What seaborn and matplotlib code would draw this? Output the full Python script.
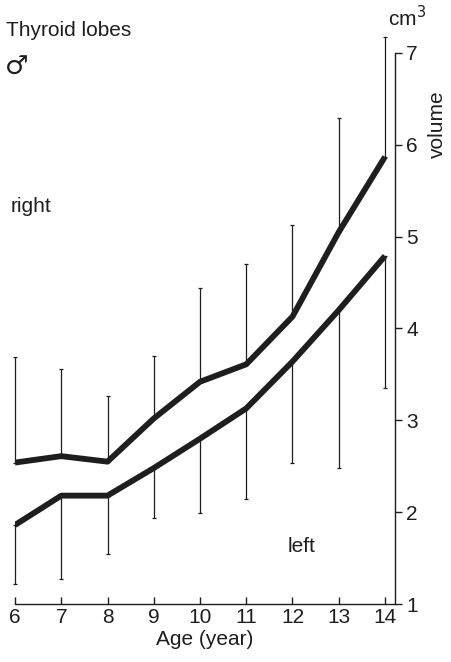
import numpy as np
import pandas as pd
import matplotlib
matplotlib.use("Agg")
import matplotlib.pyplot as plt
import seaborn as sns

# ---- data ----
ages = [6, 7, 8, 9, 10, 11, 12, 13, 14]
right_mean = [2.54, 2.61, 2.55, 3.02, 3.42, 3.61, 4.13, 5.05, 5.87]
right_upper = [3.69, 3.56, 3.27, 3.70, 4.44, 4.70, 5.13, 6.29, 7.17]
left_mean = [1.86, 2.18, 2.18, 2.48, 2.80, 3.13, 3.64, 4.20, 4.79]
left_lower = [1.22, 1.27, 1.54, 1.94, 1.99, 2.14, 2.54, 2.48, 3.35]
y_ticks = [1, 2, 3, 4, 5, 6, 7]

sns.set_theme(style="white")
plt.rcParams["font.family"] = ["Liberation Sans", "DejaVu Sans"]

W, H = 451, 662
fig = plt.figure(figsize=(W / 100, H / 100), dpi=100)
x0, x1 = 15, 395
y_top, y_bot = 53, 604
ax = fig.add_axes([x0 / W, 1 - y_bot / H, (x1 - x0) / W, (y_bot - y_top) / H])

ink = "#1e1e1e"
df = pd.DataFrame({
    "age": ages * 2,
    "volume": right_mean + left_mean,
    "lobe": ["right"] * len(ages) + ["left"] * len(ages),
})

# error bars: right lobe upward, left lobe downward
r_err = np.array([np.zeros(len(ages)), np.array(right_upper) - np.array(right_mean)])
l_err = np.array([np.array(left_mean) - np.array(left_lower), np.zeros(len(ages))])
ax.errorbar(ages, right_mean, yerr=r_err, fmt="none", ecolor=ink, elinewidth=0.9,
            capsize=1.5, capthick=0.9, clip_on=False, zorder=1)
ax.errorbar(ages, left_mean, yerr=l_err, fmt="none", ecolor=ink, elinewidth=0.9,
            capsize=1.5, capthick=0.9, clip_on=False, zorder=1)

sns.lineplot(data=df, x="age", y="volume", hue="lobe", palette={"right": ink, "left": ink},
             linewidth=4.2, legend=False, ax=ax, zorder=3, estimator=None, sort=False)
for ln in ax.lines:
    ln.set_solid_capstyle("butt")
    ln.set_solid_joinstyle("round")

span = (x1 - x0) / 46.25
ax.set_xlim(6, 6 + span)
ax.set_ylim(1, 7)

for s in ["top", "left"]:
    ax.spines[s].set_visible(False)
for s in ["bottom", "right"]:
    ax.spines[s].set_color(ink)
    ax.spines[s].set_linewidth(1.0)

fs = 15
ax.set_xticks(ages)
ax.set_xticklabels([str(a) for a in ages])
ax.set_yticks(y_ticks)
ax.set_yticklabels([str(v) for v in y_ticks])
ax.yaxis.tick_right()
ax.tick_params(axis="y", direction="out", length=5, width=1, color=ink,
               labelsize=fs, labelcolor=ink, pad=3, right=True, left=False)
ax.tick_params(axis="x", direction="in", length=5, width=1, color=ink,
               labelsize=fs, labelcolor=ink, pad=3, bottom=True)
ax.set_xlabel("Age (year)", fontsize=fs, color=ink, labelpad=2)
ax.set_ylabel("")
ax.grid(False)

fig.text(6 / W, 1 - 30 / H, "Thyroid lobes", fontsize=fs, color=ink, va="center", ha="left")
fig.text(5 / W, 1 - 68 / H, "♂", fontsize=19, color=ink, va="center", ha="left",
         family=["DejaVu Sans"])
fig.text(11 / W, 1 - 207 / H, "right", fontsize=fs, color=ink, va="center", ha="left")
fig.text(288 / W, 1 - 547 / H, "left", fontsize=fs, color=ink, va="center", ha="left")
fig.text(407 / W, 1 - 18 / H, "cm$^3$", fontsize=fs, color=ink, va="center", ha="center")
fig.text(437 / W, 1 - 124 / H, "volume", fontsize=fs, color=ink, va="center", ha="center",
         rotation=90)

fig.savefig("out.png", dpi=100)
